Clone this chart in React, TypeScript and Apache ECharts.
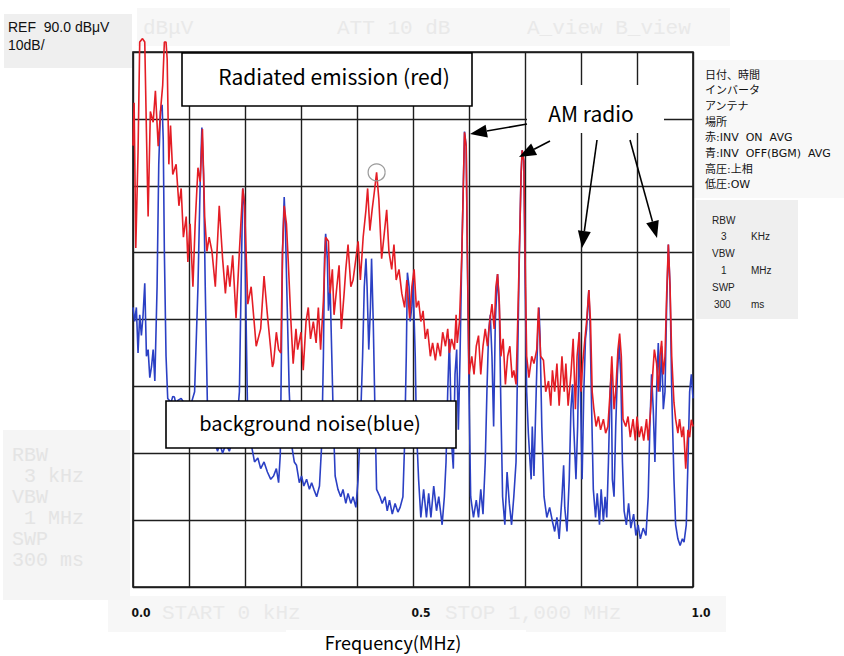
import React, { useEffect, useRef } from "react";
import * as echarts from "echarts";

// ---- axis / text content ----
const xTickValues = [0, 0.5, 1.0];
const xTickLabels = ["0.0", "0.5", "1.0"];
const xAxisTitle = "Frequency(MHz)";
const refLines = ["REF  90.0 dBμV", "10dB/"];
const infoLines = [
  "日付、時間",
  "インバータ",
  "アンテナ",
  "場所",
  "赤:INV  ON  AVG",
  "青:INV  OFF(BGM)  AVG",
  "高圧:上相",
  "低圧:OW",
];
const bwRows: string[][] = [
  ["RBW", ""],
  ["3", "KHz"],
  ["VBW", ""],
  ["1", "MHz"],
  ["SWP", ""],
  ["300", "ms"],
];
const ghostLeft = ["RBW", " 3 kHz", "VBW", " 1 MHz", "SWP", "300 ms"];
const circledPeak = [0.435, 72];

// ---- traces: [frequency MHz, level dBμV] ----
const redTrace: number[][] = [
  [0.0, 76], [0.002, 82.4], [0.005, 60.7], [0.009, 75], [0.012, 91.5], [0.017, 92], [0.021, 91.5],
  [0.024, 78], [0.027, 65.4], [0.031, 81.1], [0.036, 79.5], [0.04, 84.2], [0.045, 75.9], [0.05, 82.1],
  [0.053, 85], [0.056, 91.5], [0.059, 91.5], [0.061, 89], [0.064, 73.2], [0.067, 79], [0.071, 71.7],
  [0.077, 73.2], [0.082, 67], [0.086, 69.6], [0.09, 62.3], [0.095, 65.4], [0.098, 58.6], [0.102, 64.3],
  [0.107, 54.9], [0.111, 64.3], [0.116, 72.7], [0.12, 70.6], [0.124, 78.5], [0.128, 65.4], [0.132, 60.2],
  [0.136, 62.3], [0.141, 60.2], [0.147, 54.9], [0.154, 67], [0.16, 59.1], [0.165, 53.9], [0.169, 58.1],
  [0.173, 54.9], [0.178, 59.6], [0.184, 50.2], [0.19, 60.2], [0.196, 69.6], [0.199, 67.5], [0.205, 52.3],
  [0.211, 54.9], [0.22, 46], [0.228, 48.6], [0.234, 56.5], [0.24, 50.7], [0.249, 42.9], [0.251, 43.5],
  [0.256, 48.1], [0.26, 45.5], [0.264, 45], [0.267, 60.2], [0.27, 67], [0.274, 64.3], [0.277, 59.1],
  [0.282, 49.7], [0.286, 43.4], [0.291, 48.6], [0.294, 45.5], [0.3, 48.1], [0.304, 42.4], [0.309, 49.7],
  [0.313, 51.8], [0.317, 47.1], [0.322, 49.7], [0.327, 46.5], [0.331, 51.8], [0.335, 45.5], [0.34, 52.8],
  [0.344, 62.3], [0.349, 61.7], [0.352, 53.9], [0.356, 57.5], [0.359, 50.7], [0.364, 54.9], [0.368, 58.1],
  [0.372, 48.6], [0.377, 53.9], [0.38, 57.5], [0.384, 61.2], [0.389, 54.9], [0.393, 55.9], [0.398, 59.1],
  [0.402, 61.7], [0.406, 55.9], [0.411, 62.3], [0.416, 66.4], [0.419, 69.6], [0.423, 63.3], [0.427, 66.4],
  [0.431, 69.1], [0.435, 72], [0.439, 68], [0.444, 59.1], [0.448, 62.3], [0.453, 66.4], [0.457, 60.2],
  [0.462, 57.5], [0.466, 61.2], [0.47, 55.9], [0.475, 57.5], [0.48, 53.9], [0.485, 51.8], [0.489, 55.9],
  [0.494, 50.2], [0.498, 54.9], [0.502, 57.5], [0.506, 51.8], [0.51, 52.8], [0.514, 49.7], [0.518, 51.3],
  [0.522, 47.1], [0.526, 48.6], [0.531, 44.5], [0.535, 46.5], [0.54, 43.9], [0.544, 46.5], [0.549, 44.5],
  [0.553, 48.1], [0.558, 46], [0.562, 48.6], [0.565, 45], [0.569, 47.1], [0.574, 45.5], [0.577, 50.7],
  [0.579, 46.5], [0.583, 49.7], [0.587, 59.1], [0.59, 70.6], [0.592, 78], [0.595, 75.9], [0.597, 60.2],
  [0.6, 41.8], [0.605, 44.5], [0.609, 41.8], [0.613, 46], [0.617, 47.6], [0.621, 41.8], [0.625, 46],
  [0.629, 48.6], [0.633, 46], [0.637, 49.7], [0.641, 52.3], [0.645, 48.6], [0.648, 54.9], [0.651, 56.8],
  [0.654, 52.8], [0.657, 44.5], [0.661, 47.1], [0.665, 40.3], [0.669, 44.5], [0.673, 46], [0.677, 41.3],
  [0.68, 42.4], [0.684, 40.3], [0.687, 49.7], [0.69, 60.2], [0.693, 71.7], [0.695, 75.3], [0.698, 73.7],
  [0.7, 60.2], [0.703, 44.5], [0.707, 41.3], [0.712, 44.5], [0.716, 43.4], [0.721, 45.5], [0.724, 51.8],
  [0.728, 44.5], [0.733, 43.9], [0.737, 39.2], [0.742, 40.8], [0.746, 37.1], [0.749, 42.4], [0.753, 39.2],
  [0.757, 43.4], [0.761, 37.1], [0.766, 44.5], [0.77, 39.2], [0.773, 43.4], [0.777, 37.1], [0.782, 41.8],
  [0.786, 47.1], [0.79, 36.6], [0.793, 44.5], [0.797, 48.1], [0.8, 39.2], [0.803, 43.4], [0.807, 47.1],
  [0.81, 49.7], [0.814, 54.4], [0.817, 49.7], [0.82, 39.2], [0.823, 36.6], [0.827, 34], [0.831, 35.5],
  [0.835, 33.5], [0.84, 35.1], [0.844, 33], [0.848, 34], [0.852, 39.2], [0.855, 44.5], [0.859, 36.6],
  [0.862, 39.2], [0.866, 45.5], [0.869, 47.9], [0.872, 44.5], [0.875, 35.1], [0.88, 34], [0.884, 35.5],
  [0.888, 32.4], [0.893, 35.1], [0.897, 31.9], [0.9, 35.5], [0.904, 32.4], [0.908, 34], [0.912, 31.9],
  [0.917, 35.1], [0.92, 31.9], [0.924, 36.1], [0.928, 41.8], [0.931, 45.5], [0.935, 43.4], [0.938, 39.2],
  [0.941, 44.5], [0.944, 46.8], [0.947, 41.8], [0.95, 44.5], [0.953, 53.9], [0.956, 61.2], [0.959, 54.9],
  [0.962, 44.5], [0.966, 37.6], [0.969, 35.1], [0.973, 33], [0.976, 35.1], [0.98, 32.4], [0.983, 34],
  [0.987, 27.7], [0.991, 33.5], [0.994, 32.4], [0.997, 35], [1.0, 34],
];

const blueTrace: number[][] = [
  [0.0, 51.8], [0.003, 49.7], [0.006, 51.8], [0.009, 45], [0.012, 50.7], [0.015, 47.6], [0.018, 50.7],
  [0.021, 55.4], [0.024, 44.5], [0.027, 45.5], [0.03, 41.3], [0.033, 42.9], [0.036, 45.5], [0.039, 40.8],
  [0.043, 54.9], [0.046, 73.2], [0.049, 81.1], [0.052, 82.1], [0.054, 76.9], [0.056, 60.2], [0.059, 44.5],
  [0.062, 38.2], [0.068, 37.6], [0.071, 38.5], [0.074, 38.4], [0.077, 37.2], [0.08, 37.9], [0.086, 38.2],
  [0.092, 37.4], [0.101, 36.6], [0.11, 39.2], [0.116, 54.9], [0.12, 70.6], [0.123, 78.7], [0.126, 71.7],
  [0.129, 54.9], [0.133, 36.6], [0.139, 33], [0.145, 31.9], [0.151, 30.3], [0.155, 31.4], [0.16, 30],
  [0.166, 31.4], [0.172, 30.3], [0.178, 31.9], [0.184, 33], [0.19, 39.2], [0.193, 54.9], [0.196, 69.6],
  [0.199, 67], [0.202, 49.7], [0.205, 34], [0.211, 31.4], [0.217, 28.7], [0.223, 29.3], [0.228, 27.7],
  [0.234, 28.7], [0.24, 27.2], [0.246, 26.1], [0.251, 26.6], [0.256, 27.7], [0.26, 25.6], [0.263, 29.8],
  [0.265, 44.5], [0.267, 60.2], [0.27, 68.3], [0.272, 64.3], [0.276, 49.7], [0.279, 39.2], [0.283, 31.4],
  [0.288, 28.7], [0.292, 28.2], [0.297, 25.6], [0.301, 26.6], [0.305, 25.1], [0.31, 26.1], [0.315, 24.6],
  [0.319, 25.6], [0.323, 24.6], [0.328, 23.5], [0.333, 25.1], [0.337, 31.4], [0.34, 44.5], [0.342, 59.1],
  [0.344, 62.8], [0.347, 59.1], [0.349, 51.3], [0.352, 54.9], [0.355, 44.5], [0.358, 34], [0.361, 26.6],
  [0.366, 24.6], [0.371, 23.5], [0.375, 24.6], [0.38, 22.5], [0.384, 24], [0.389, 22.5], [0.393, 23.5],
  [0.398, 21.9], [0.402, 26.1], [0.406, 34], [0.41, 44.5], [0.413, 54.9], [0.416, 59.1], [0.418, 54.9],
  [0.421, 45.5], [0.424, 51.8], [0.426, 59.1], [0.429, 49.7], [0.432, 36.6], [0.435, 24.6], [0.441, 23.5],
  [0.445, 22.5], [0.45, 23.5], [0.454, 21.4], [0.458, 23], [0.463, 20.9], [0.468, 22.5], [0.473, 21.2],
  [0.477, 21.9], [0.482, 23.5], [0.485, 31.4], [0.488, 44.5], [0.49, 57], [0.493, 54.9], [0.495, 49.7],
  [0.498, 52], [0.5, 56], [0.504, 44.5], [0.506, 34], [0.51, 26.1], [0.514, 20.4], [0.519, 24.6],
  [0.524, 20.4], [0.528, 24], [0.532, 20.4], [0.537, 25.1], [0.542, 21.4], [0.546, 23.5], [0.552, 19.3],
  [0.556, 23.5], [0.559, 28.7], [0.562, 39.2], [0.565, 47.1], [0.566, 43.4], [0.569, 31.4], [0.572, 27.7],
  [0.575, 41.8], [0.578, 45.5], [0.581, 33.5], [0.584, 44.5], [0.587, 59.1], [0.59, 70.6], [0.592, 78.1],
  [0.595, 75.9], [0.597, 60.2], [0.6, 39.2], [0.603, 23.5], [0.608, 20.4], [0.613, 23], [0.617, 20.4],
  [0.621, 24.6], [0.625, 20.9], [0.629, 28.7], [0.632, 39.2], [0.635, 48.1], [0.638, 50.7], [0.641, 44.5],
  [0.644, 34], [0.647, 49.7], [0.65, 54.9], [0.651, 56.8], [0.654, 52.3], [0.657, 36.6], [0.66, 23.5],
  [0.664, 19.3], [0.668, 27.2], [0.672, 22.5], [0.676, 19.3], [0.68, 23.5], [0.684, 28.7], [0.687, 44.5],
  [0.69, 60.2], [0.693, 71.7], [0.695, 75.3], [0.698, 73.7], [0.7, 57.5], [0.703, 39.2], [0.706, 33],
  [0.709, 28.7], [0.711, 26.1], [0.713, 34], [0.716, 26.6], [0.72, 39.2], [0.723, 48.6], [0.725, 51.8],
  [0.727, 47.1], [0.73, 34], [0.734, 23.5], [0.739, 20.4], [0.744, 21.9], [0.749, 19.8], [0.753, 18.3],
  [0.757, 20.4], [0.761, 17.2], [0.766, 23.5], [0.769, 28.2], [0.771, 21.9], [0.775, 18.3], [0.779, 26.1],
  [0.782, 36.6], [0.785, 40.3], [0.787, 34], [0.791, 26.1], [0.794, 34], [0.797, 48.1], [0.799, 39.2],
  [0.802, 26.1], [0.805, 39.2], [0.808, 47.1], [0.81, 48.6], [0.812, 51.8], [0.814, 54.4], [0.816, 49.7],
  [0.819, 36.6], [0.822, 24.6], [0.826, 20.4], [0.829, 24], [0.833, 19.3], [0.836, 24.6], [0.84, 19.8],
  [0.843, 23.5], [0.846, 20.4], [0.849, 28.7], [0.852, 39.2], [0.854, 41.8], [0.856, 26.1], [0.859, 23.5],
  [0.862, 34], [0.865, 41.8], [0.868, 46.5], [0.871, 41.8], [0.874, 28.7], [0.877, 21.4], [0.881, 19.3],
  [0.885, 22.5], [0.889, 18.8], [0.894, 20.9], [0.898, 17.7], [0.902, 19.3], [0.906, 17.2], [0.911, 18.8],
  [0.916, 17.7], [0.92, 23.5], [0.923, 34], [0.926, 41.8], [0.929, 36.6], [0.932, 28.7], [0.935, 39.2],
  [0.938, 46.5], [0.941, 39.2], [0.944, 46], [0.947, 36.6], [0.95, 39.2], [0.953, 52.3], [0.956, 61.2],
  [0.959, 54.9], [0.962, 39.2], [0.966, 26.1], [0.969, 19.3], [0.973, 17.2], [0.977, 16.2], [0.981, 17.2],
  [0.984, 16.7], [0.988, 19.3], [0.991, 28.7], [0.994, 39.2], [0.997, 41.8], [1.0, 38.2],
];

const JP = '"Noto Sans CJK JP", "Noto Sans", sans-serif';
const INFO = '"DejaVu Sans", "Noto Sans CJK JP", sans-serif';
const SANS = '"Liberation Sans", Arial, sans-serif';
const MONO = '"Liberation Mono", "DejaVu Sans Mono", monospace';

function arrow(x1: number, y1: number, x2: number, y2: number): any[] {
  const dx = x2 - x1;
  const dy = y2 - y1;
  const len = Math.sqrt(dx * dx + dy * dy);
  const ux = dx / len;
  const uy = dy / len;
  const headLen = 17;
  const hw = 6.5;
  const bx = x2 - ux * headLen;
  const by = y2 - uy * headLen;
  return [
    { type: "line", z: 120, silent: true, shape: { x1, y1, x2: bx, y2: by }, style: { stroke: "#000", lineWidth: 1.6 } },
    {
      type: "polygon",
      z: 120,
      silent: true,
      shape: { points: [[x2, y2], [bx - uy * hw, by + ux * hw], [bx + uy * hw, by - ux * hw]] },
      style: { fill: "#000" },
    },
  ];
}

function text(x: number, y: number, t: string, size: number, family: string, fill: string, align = "left", z = 110, weight = "normal"): any {
  return {
    type: "text",
    x,
    y,
    z,
    silent: true,
    style: { text: t, fill, fontSize: size, fontFamily: family, fontWeight: weight, align, verticalAlign: "middle" },
  };
}

function box(x: number, y: number, w: number, h: number, fill: string, stroke?: string, z = 100): any {
  return {
    type: "rect",
    z,
    silent: true,
    shape: { x, y, width: w, height: h },
    style: stroke ? { fill, stroke, lineWidth: 1.6 } : { fill },
  };
}

export default function App() {
  const ref = useRef<HTMLDivElement>(null);
  useEffect(() => {
    if (!ref.current) return;
    const chart = echarts.init(ref.current, undefined, { renderer: "svg" });

    const graphics: any[] = [];
    // faint scanned instrument panels
    const ghost = "#e9e9e9";
    graphics.push(box(137, 8, 593, 38, "#f7f7f7", undefined, 0));
    graphics.push(text(143, 28, "dBμV", 21, MONO, ghost, "left", 1));
    graphics.push(text(337, 28, "ATT 10 dB", 21, MONO, ghost, "left", 1));
    graphics.push(text(527, 28, "A_view B_view", 21, MONO, ghost, "left", 1));
    graphics.push(box(108, 596, 618, 36, "#f7f7f7", undefined, 0));
    graphics.push(text(162, 613, "START 0 kHz", 21, MONO, ghost, "left", 1));
    graphics.push(text(445, 613, "STOP 1,000 MHz", 21, MONO, ghost, "left", 1));
    graphics.push(box(3, 430, 127, 170, "#f5f5f5", undefined, 0));
    ghostLeft.forEach((t, i) => graphics.push(text(12, 455 + i * 21, t, 20, MONO, "#e4e4e4", "left", 1)));

    // REF panel
    graphics.push(box(4, 14, 128, 54, "#efefef", undefined, 2));
    graphics.push(text(8, 27, refLines[0], 14, SANS, "#111", "left", 3));
    graphics.push(text(8, 45, refLines[1], 14, SANS, "#111", "left", 3));

    // right info panel
    graphics.push(box(694, 60, 150, 138, "#f8f8f8", undefined, 0));
    infoLines.forEach((t, i) => graphics.push(text(705, 75 + i * 15.7, t, 11, INFO, "#111", "left", 3)));
    graphics.push(box(696, 200, 102, 119, "#efefef", undefined, 0));
    bwRows.forEach((r, i) => {
      const y = 220 + i * 16.8;
      if (r[1] === "") {
        graphics.push(text(712, y, r[0], 10, SANS, "#222", "left", 3));
      } else {
        graphics.push(text(r[0].length > 1 ? 714 : 721, y, r[0], 10, SANS, "#222", "left", 3));
        graphics.push(text(751, y, r[1], 10, SANS, "#222", "left", 3));
      }
    });

    // annotation boxes
    graphics.push(box(182, 53, 290, 53, "#fff", "#000"));
    graphics.push(text(334, 76, "Radiated emission (red)", 21, JP, "#000", "center"));
    graphics.push(box(527, 85, 137, 48, "#fff"));
    graphics.push(text(591, 113, "AM radio", 21, JP, "#000", "center"));
    graphics.push(box(166, 401, 290, 47, "#fff", "#000"));
    graphics.push(text(310, 422, "background noise(blue)", 20, JP, "#000", "center"));
    graphics.push(box(286, 630, 240, 26, "#fff", undefined, 5));
    graphics.push(text(393, 642, xAxisTitle, 18, JP, "#000", "center", 6));

    // arrows from "AM radio" to carriers
    graphics.push(...arrow(527, 124, 470, 134));
    graphics.push(...arrow(550, 141, 519, 157));
    graphics.push(...arrow(597, 140, 582, 248));
    graphics.push(...arrow(630, 140, 657, 238));

    chart.setOption({
      animation: false,
      backgroundColor: "#fff",
      grid: {
        left: 133,
        right: 151,
        top: 52,
        bottom: 69,
        show: true,
        borderColor: "#111",
        borderWidth: 1.6,
        backgroundColor: "transparent",
      },
      xAxis: {
        type: "value",
        min: 0,
        max: 1,
        interval: 0.1,
        axisLine: { show: false },
        axisTick: { show: false },
        splitLine: { show: true, lineStyle: { color: "#1e1e1e", width: 1.4 } },
        axisLabel: {
          show: true,
          margin: 20,
          fontSize: 12,
          fontWeight: "bold",
          fontFamily: '"DejaVu Sans Condensed", "Liberation Sans", sans-serif',
          color: "#111",
          padding: [0, 0, 0, 16],
          showMinLabel: true,
          showMaxLabel: true,
          formatter: (v: number) => {
            const i = xTickValues.findIndex((t) => Math.abs(t - v) < 1e-6);
            return i >= 0 ? xTickLabels[i] : "";
          },
        },
      },
      yAxis: {
        type: "value",
        min: 10,
        max: 90,
        interval: 10,
        axisLine: { show: false },
        axisTick: { show: false },
        axisLabel: { show: false },
        splitLine: { show: true, lineStyle: { color: "#1e1e1e", width: 1.4 } },
      },
      series: [
        {
          name: "INV OFF (BGM)",
          type: "line",
          data: blueTrace,
          showSymbol: false,
          symbol: "none",
          z: 3,
          clip: false,
          lineStyle: { color: "#2b40c4", width: 1.6 },
        },
        {
          name: "INV ON",
          type: "line",
          data: redTrace,
          showSymbol: false,
          symbol: "none",
          z: 4,
          clip: false,
          lineStyle: { color: "#e41d25", width: 1.6 },
          markPoint: {
            symbol: "circle",
            symbolSize: 17,
            silent: true,
            label: { show: false },
            itemStyle: { color: "rgba(0,0,0,0)", borderColor: "#999", borderWidth: 1.2 },
            data: [{ coord: circledPeak }],
          },
        },
      ],
      graphic: { elements: graphics },
    });
    return () => chart.dispose();
  }, []);
  return <div ref={ref} style={{ position: "absolute", left: 0, top: 0, width: 844, height: 656 }} />;
}
